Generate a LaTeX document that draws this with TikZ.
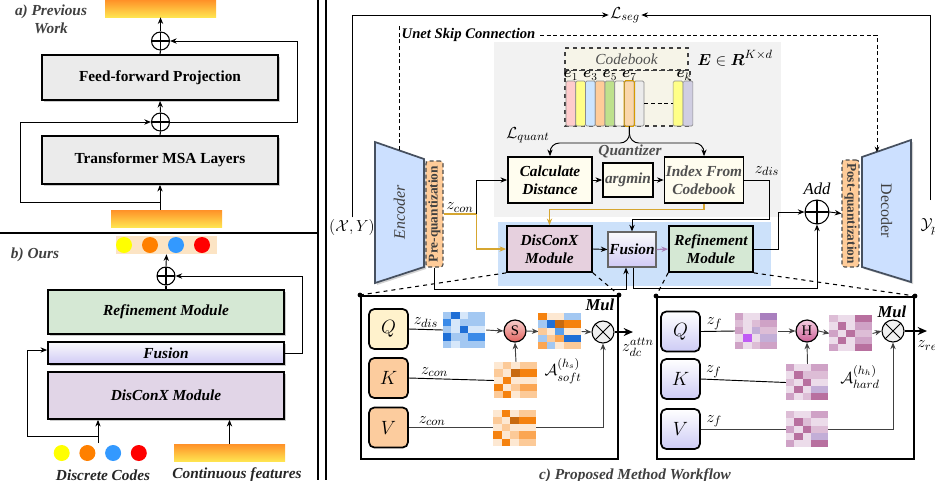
\documentclass[tikz,border=0pt]{standalone}
\usepackage{amsmath}
\usepackage{fontspec}
\setmainfont{Liberation Serif}
\usepackage{graphicx}
\usetikzlibrary{arrows.meta, positioning, calc, shadows}

\definecolor{txtgray}{RGB}{64,64,64}
\definecolor{qgray}{RGB}{80,80,80}
\definecolor{boxgray}{RGB}{235,235,235}
\definecolor{refgreen}{RGB}{213,232,212}
\definecolor{dcxpurple}{RGB}{225,213,231}
\definecolor{fustop}{RGB}{250,250,252}
\definecolor{fusbot}{RGB}{208,202,245}
\definecolor{stripbg}{RGB}{252,228,196}
\definecolor{baro}{RGB}{255,145,40}
\definecolor{bary}{RGB}{255,228,80}
\definecolor{cy}{RGB}{255,255,0}
\definecolor{co}{RGB}{255,128,0}
\definecolor{cb}{RGB}{51,153,255}
\definecolor{cr}{RGB}{255,0,0}
\definecolor{panelgray}{RGB}{242,242,242}
\definecolor{panelblue}{RGB}{204,225,250}
\definecolor{encblue}{RGB}{204,224,255}
\definecolor{encedge}{RGB}{70,80,95}
\definecolor{quantorange}{RGB}{255,204,153}
\definecolor{cream}{RGB}{255,253,239}
\definecolor{cbcream}{RGB}{246,244,232}
\definecolor{dcxpink}{RGB}{230,208,222}
\definecolor{gold}{RGB}{214,166,48}
\definecolor{fuspurple}{RGB}{166,128,184}
\definecolor{qyellow}{RGB}{255,242,204}
\definecolor{kvorange}{RGB}{252,204,158}
\definecolor{qkvbot}{RGB}{205,203,245}
\definecolor{stop}{RGB}{248,206,204}
\definecolor{sbot}{RGB}{226,100,96}
\definecolor{htop}{RGB}{246,206,226}
\definecolor{hbot}{RGB}{204,96,150}
% codebook bars
\definecolor{e1c}{RGB}{255,204,204}
\definecolor{e2c}{RGB}{255,255,136}
\definecolor{e3c}{RGB}{204,229,255}
\definecolor{e4c}{RGB}{255,204,153}
\definecolor{e5c}{RGB}{190,225,140}
\definecolor{e6c}{RGB}{248,246,238}
\definecolor{e7c}{RGB}{250,215,172}
\definecolor{e7edge}{RGB}{215,155,0}
\definecolor{e8c}{RGB}{235,235,235}
\definecolor{ekc}{RGB}{208,206,226}
% heatmap shades
\definecolor{bA}{HTML}{D6E7FA}
\definecolor{bB}{HTML}{A3C8F2}
\definecolor{bC}{HTML}{5CA0EC}
\definecolor{bD}{HTML}{1F6FD6}
\definecolor{bE}{HTML}{3A8AE8}
\definecolor{oA}{HTML}{FDE8D2}
\definecolor{oB}{HTML}{FCCA98}
\definecolor{oC}{HTML}{FBA653}
\definecolor{oD}{HTML}{F5820F}
\definecolor{oE}{HTML}{C86A10}
\definecolor{pA}{HTML}{ECDCEA}
\definecolor{pB}{HTML}{DDBDD6}
\definecolor{pC}{HTML}{CFA2C6}
\definecolor{pD}{HTML}{B8709F}
\definecolor{pE}{HTML}{C3AED7}
\definecolor{pF}{HTML}{A97FBE}
\definecolor{pG}{HTML}{C05CF5}

% 5x4 heat map (last column double width) over a named node
\newcommand{\hmap}[2]{%
  \begin{scope}[shift={(#1.north west)}]
    \foreach \c [count=\i from 0] in {#2}{
      \pgfmathtruncatemacro{\hrow}{div(\i,4)}
      \pgfmathtruncatemacro{\hcol}{mod(\i,4)}
      \pgfmathsetmacro{\hw}{\hcol==3 ? 2 : 1}
      \fill[\c] (\hcol*8.5, \hrow*7.2) rectangle ++(\hw*8.5, 7.2);
    }
  \end{scope}}

\begin{document}
\begin{tikzpicture}[
    x=0.75pt, y=-0.75pt,
    font=\fontsize{11}{13}\selectfont,
    wh/.style 2 args={minimum width=#1*0.75pt, minimum height=#2*0.75pt},
    shad/.style={drop shadow={shadow xshift=1.2pt, shadow yshift=-1.2pt, fill=black!40}},
    blockbox/.style={draw, line width=1.3pt, inner sep=1pt, align=center, shad, font=\fontsize{11.5}{13}\selectfont\bfseries},
    modbox/.style={draw, line width=1.3pt, inner sep=1pt, align=center, font=\fontsize{11.5}{13.5}\selectfont\bfseries\itshape},
    qbox/.style={draw, fill=cream, line width=1.3pt, inner sep=1pt, align=center, font=\fontsize{11.5}{13.5}\selectfont\bfseries\itshape},
    paneltitle/.style={text=txtgray, font=\fontsize{11.5}{13.5}\selectfont\bfseries\itshape, align=center},
    mlabel/.style={inner sep=1pt, font=\fontsize{13}{13}\selectfont},
    sumnode/.style={draw, circle, fill=white, inner sep=0pt, minimum size=18*0.75pt, line width=0.8pt,
        path picture={\draw[line width=0.8pt] (path picture bounding box.north) -- (path picture bounding box.south)
            (path picture bounding box.west) -- (path picture bounding box.east);}},
    mulnode/.style={draw, circle, fill=black!6, inner sep=0pt, minimum size=22*0.75pt, line width=0.8pt,
        path picture={\draw[line width=0.7pt] (path picture bounding box.north west) -- (path picture bounding box.south east)
            (path picture bounding box.north east) -- (path picture bounding box.south west);}},
    opnode/.style={draw, circle, inner sep=0pt, minimum size=22*0.75pt, line width=0.9pt, font=\fontsize{11}{11}\selectfont},
    gradbar/.style={top color=baro, bottom color=bary, draw=none, inner sep=0pt},
    codedot/.style={circle, inner sep=0pt, minimum size=16*0.75pt},
    codec/.style={fill=encblue, draw=encedge, line width=1.3pt, drop shadow={shadow xshift=1.5pt, shadow yshift=-1.5pt, fill=black!35}},
    codectext/.style={text=txtgray, inner sep=0pt, font=\fontsize{12}{12}\selectfont},
    quantbox/.style={draw=black!70, densely dashed, fill=quantorange, rounded corners=2pt, line width=0.8pt, inner sep=0pt, text=txtgray, font=\fontsize{10}{10}\selectfont\bfseries},
    cbbar/.style={draw=black!45, rounded corners=1pt, wh={9.75}{45}, inner sep=0pt, line width=0.5pt},
    elabel/.style={inner sep=0.3pt, font=\fontsize{11}{11}\selectfont},
    detailbox/.style={draw, line width=1.5pt, fill=white},
    qkv/.style={draw, line width=1.3pt, rounded corners=4pt, wh={39}{40}, font=\fontsize{14}{14}\selectfont},
    mat/.style={wh={42.5}{36}, inner sep=0pt},
    arr/.style={-{Stealth[length=5pt,width=4pt]}, line width=0.7pt},
    garr/.style={-{Stealth[length=5pt,width=4pt]}, line width=0.7pt, draw=black!75},
    goldarr/.style={-{Stealth[length=5pt,width=4pt]}, line width=0.9pt, draw=gold},
    purparr/.style={-{Stealth[length=5pt,width=4pt]}, line width=0.9pt, draw=fuspurple},
    skipline/.style={densely dashed, line width=0.7pt},
    zoomline/.style={dashed, line width=0.8pt}
]
\useasboundingbox (0,0) rectangle (935,480);

% Panel a: previous work
\node[gradbar, wh={111}{17}] (aout) at (160.5,8.5) {};
\node[sumnode] (asum1) at (160.5,41) {};
\node[blockbox, fill=boxgray, wh={236}{45}] (ffp) at (160,77.5) {Feed-forward Projection};
\node[sumnode] (asum2) at (160.5,122) {};
\node[blockbox, fill=boxgray, wh={236}{48}] (msa) at (160,160) {Transformer MSA Layers};
\node[gradbar, wh={111}{17}] (ain) at (166.5,218.5) {};
\node[paneltitle] (atitle) at (51,19) {a) Previous\\Work};
\coordinate (ajoin) at (160,202);
\coordinate (aleft) at (20,202);
\coordinate (aright) at (297,122);

\draw[arr] (ain.north -| msa.south) -- (msa.south);
\draw[arr] (ajoin) -- (aleft) |- (asum2.west);
\draw[line width=0.8pt] (msa.north) -- (asum2.south);
\draw[arr] (asum2.north) -- (ffp.south);
\draw[line width=0.8pt] (ffp.north) -- (asum1.south);
\draw[arr] (asum1.north) -- (aout.south);
\draw[arr] (asum2.east) -- (aright) |- (asum1.east);

% Panel b: ours
\node[fill=stripbg, wh={101}{18}, inner sep=0pt] (bout) at (166.5,245) {};
\foreach \c [count=\i] in {cy, co, cb, cr}
    \node[codedot, fill=\c] (bo\i) at (98+26*\i,245) {};
\node[sumnode] (bsum) at (166,276) {};
\node[modbox, shad, fill=refgreen, wh={236}{44}] (bref) at (166,312) {Refinement Module};
\node[modbox, shad, top color=fustop, bottom color=fusbot, wh={236}{22}] (bfus) at (166,353) {Fusion};
\node[modbox, shad, fill=dcxpurple, wh={236}{47}] (bdcx) at (166,395.5) {DisConX Module};
\foreach \c [count=\i] in {cy, co, cb, cr}
    \node[codedot, fill=\c] (bc\i) at (36+25.7*\i,453) {};
\node[gradbar, wh={111}{17}] (bin) at (229.5,452.5) {};
\node[paneltitle] (btitle) at (35,255) {b) Ours};
\node[paneltitle, text=black!85] (bcodes) at (103,475) {Discrete Codes};
\node[paneltitle, text=black!85] (bfeat) at (237,475) {Continuous features};
\coordinate (bcode) at (98,443);
\coordinate (bjoin) at (98,436);
\coordinate (bleft) at (27,436);
\coordinate (bright) at (302,353);

\draw[arr] (bcode) -- (bcode |- bdcx.south);
\draw[arr] (bjoin) -- (bleft) |- ($(bfus.west)+(0,-3)$);
\draw[arr] (bin.north) -- (bin.north |- bdcx.south);
\draw[line width=0.8pt] (bref.north) -- (bsum.south);
\draw[arr] (bsum.north) -- (bout.south);
\draw[arr] (bfus.east) -- (bright) |- (bsum.east);

% dividers
\draw[line width=1.2pt] (0,233) -- (318,233);
\draw[line width=1.2pt] (318,0) -- (318,480);
\draw[line width=1.2pt] (326,0) -- (326,480);

% Panel c: backgrounds
\fill[panelgray] (494,42) rectangle (781,217);
\fill[panelblue] (498,222) rectangle (771,286);

% segmentation loss
\node[mlabel] (xy) at (352,227) {$(\mathcal{X},Y)$};
\node[mlabel] (lseg) at (625,15) {$\mathcal{L}_{seg}$};
\node[mlabel, anchor=west] (ypred) at (919,227) {$\mathcal{Y}_{pred}$};
\coordinate (ypout) at (930,200);
\draw[arr] (xy.north) |- (lseg.west);
\draw[arr] (ypout) |- (lseg.east);

% encoder and decoder
\filldraw[codec] (375,142) -- (424,159) -- (424,267) -- (375,283) -- cycle;
\node[codectext] (enc) at (399.5,212) {\rotatebox{90}{\itshape Encoder}};
\filldraw[codec] (862,157) -- (911,140) -- (911,282) -- (862,267) -- cycle;
\node[codectext] (dec) at (886.5,211) {\rotatebox{-90}{Decoder}};
\node[quantbox, wh={17}{106}] (pre) at (434.5,214) {\rotatebox{90}{Pre-quantization}};
\node[quantbox, wh={17}{107}] (post) at (850.5,213.5) {\rotatebox{-90}{Post-quantization}};
\coordinate (enctop) at (399,150);
\coordinate (dectop) at (877,152);

% unet skip
\node[anchor=west, font=\fontsize{11}{13}\selectfont\bfseries\itshape] (unet) at (397,35) {Unet Skip Connection};
\draw[skipline] (enctop) -- (enctop |- unet.north);
\draw[skipline, -{Stealth[length=4pt,width=3.5pt]}] (unet.east) -| (dectop);

% codebook
\fill[cbcream] (565,70) rectangle (690,126);
\draw[dashed, line width=1pt, black!75] (565,70) rectangle (690,126);
\node[draw=black!75, dashed, line width=1pt, fill=cbcream, wh={123}{22}, inner sep=0pt, text=qgray, font=\fontsize{11.5}{12}\selectfont\itshape] (cbhead) at (626.5,59) {Codebook};
\foreach \c [count=\i] in {e1c,e2c,e3c,e4c,e5c,e6c,e7c,e8c}
    \node[cbbar, fill=\c] (bar\i) at (561.125+9.75*\i,103.5) {};
\draw[e7edge, line width=0.7pt, rounded corners=1pt] (bar7.north west) rectangle (bar7.south east);
\node[cbbar, fill=e2c] (barkm) at (678,103.5) {};
\node[cbbar, fill=ekc] (bark) at (688,103.5) {};
\draw[densely dashed, line width=0.6pt] (bar8.east) -- (barkm.west);
\foreach \i in {1,3,5,7}
    \node[elabel, above=0pt of bar\i] (lab\i) {$\boldsymbol{e}_{\i}$};
\node[elabel, above=0pt of bark, xshift=-3pt] (labk) {$\boldsymbol{e}_{k}$};
\node[font=\fontsize{13}{13}\selectfont] (ekd) at (735,58) {$\boldsymbol{E}\in \boldsymbol{R}^{K\times d}$};

% quantizer
\node[qbox, wh={84}{46}] (calc) at (550,180) {Calculate\\Distance};
\node[qbox, wh={50}{34}, text=qgray] (amin) at (628,180) {argmin};
\node[qbox, wh={76}{46}, text=qgray] (index) at (704,180) {Index From\\Codebook};
\node[text=qgray, font=\fontsize{11.5}{12}\selectfont\bfseries\itshape] (qz) at (630,151) {Quantizer};
\node[mlabel] (lq) at (528,135) {$\mathcal{L}_{quant}$};
\coordinate (qsplit) at (629.5,143);
\draw[arr, rounded corners=7pt] (bar7.south) -- (qsplit) -| (calc.north);
\draw[arr, rounded corners=7pt] (bar7.south) -- (qsplit) -| (index.north);
\draw[arr] (calc.east) -- (amin.west);
\draw[arr] (amin.east) -- (index.west);

% modules
\node[modbox, fill=dcxpink, wh={85}{46}] (dcx) at (549.5,249) {DisConX\\Module};
\node[modbox, draw=black!60, line width=0.8pt, top color=fustop, bottom color=fusbot, wh={48}{35}] (fus) at (632,249.5) {Fusion};
\node[modbox, fill=refgreen, wh={84}{46}] (ref) at (711,249) {Refinement\\Module};
\node[sumnode, minimum size=24*0.75pt] (add) at (817,212) {};
\node[above=0pt of add, font=\fontsize{12.5}{12}\selectfont\itshape] (addlab) {Add};
\node[mlabel] (zdis) at (767,171) {$z_{dis}$};
\coordinate (zsplit) at ($(pre.east)+(33,0)$);

\draw[draw=gold, line width=0.9pt] (pre.east) -- node[mlabel, above, text=black] {$z_{con}$} (zsplit);
\draw[goldarr] (zsplit) |- (dcx.west);
\draw[arr] (zsplit) |- (calc.west);
\draw[arr] (index.east) -| ($(index.east)+(25,39)$) -| (fus.north);
\draw[goldarr] (index.south) -- ++(0,6) -| (dcx.north);
\draw[arr] (dcx.east) -- (fus.west);
\draw[purparr] (fus.east) -- (ref.west);
\draw[arr] (ref.east) -- ++(25,0) |- (add.west);
\draw[arr] (add.east) -- (post.west);
\draw[arr] (pre.south) -- ++(0,22) -| ($(fus.south)+(-6,0)$);
\draw[arr] ($(fus.south)+(1,0)$) -- ++(0,21) -| (add.south);

% detail boxes
\node[detailbox, wh={257}{163}] (lbox) at (489.5,377.5) {};
\node[detailbox, wh={257}{162}] (rbox) at (785.5,378) {};
\draw[zoomline] (dcx.south west) -- (lbox.north west);
\draw[zoomline] (dcx.south east) -- (lbox.north east);
\draw[zoomline] (ref.south west) -- (rbox.north west);
\draw[zoomline] (ref.south east) -- (rbox.north east);
\foreach \b in {lbox, rbox}{
    \fill (\b.north west) circle (1.8pt);
    \fill (\b.north east) circle (1.8pt);
}

% soft attention (DisConX)
\node[qkv, fill=qyellow] (lqn) at (388.5,329) {$Q$};
\node[qkv, fill=kvorange] (lkn) at (388.5,378) {$K$};
\node[qkv, fill=kvorange] (lvn) at (388.5,427.5) {$V$};
\node[mat] (lqm) at (464.5,330) {};
\node[opnode, top color=stop, bottom color=sbot] (ls) at (515,331) {S};
\node[mat] (lres) at (560,331.5) {};
\node[mulnode] (lmul) at (603,332) {};
\node[font=\fontsize{12.5}{12}\selectfont\bfseries\itshape] (lmullab) at (600,305) {Mul};
\node[mat] (lkm) at (516,380.5) {};
\node[mat] (lvm) at (515,428) {};
\node[mlabel] (lasoft) at (563,371) {$\mathcal{A}_{soft}^{(h_s)}$};
\coordinate (lout) at (633,332);
\node[mlabel] (lzdc) at (638,347) {$z_{dc}^{attn}$};

\draw[line width=0.7pt] (lqn.east) -- node[mlabel, above] {$z_{dis}$} (lqm.west);
\draw[garr] (lqm.east) -- (ls.west);
\draw[garr] (ls.east) -- (lres.west);
\draw[garr] (lres.east) -- (lmul.west);
\draw[-{Stealth[length=7pt,width=6pt]}, line width=1.4pt] (lmul.east) -- (lout);
\draw[line width=0.7pt] (lkn.east) -- node[mlabel, above, pos=0.3] {$z_{con}$} (lkm.west);
\draw[garr] (lkm.north) -- (ls.south);
\draw[garr] (lvn.east) -- node[mlabel, above, pos=0.12] {$z_{con}$} (lvn.east -| lmul) -- (lmul.south);
\hmap{lqm}{bB,bD,bA,bB, bE,bA,bB,bB, bB,bA,bD,bA, bD,bB,bB,bE, bB,bA,bB,bB}
\hmap{lres}{oD,oA,oA,bB, bB,bD,oE,oD, oB,oA,bC,oA, bB,oB,oC,bD, oC,bB,oA,oB}
\hmap{lkm}{oA,oB,oA,oB, oB,oA,oE,oD, oA,oD,oA,oA, oD,oA,oB,oC, oB,oD,oA,oB}
\hmap{lvm}{oA,oD,oA,oB, oB,oA,oE,oD, oA,oB,oA,oA, oD,oA,oB,oC, oA,oD,oA,oB}

% hard attention (Refinement)
\node[qkv, top color=white, bottom color=qkvbot] (rqn) at (680.5,331.5) {$Q$};
\node[qkv, top color=white, bottom color=qkvbot] (rkn) at (680.5,379) {$K$};
\node[qkv, top color=white, bottom color=qkvbot] (rvn) at (680.5,429) {$V$};
\node[mat] (rqm) at (756.5,331) {};
\node[opnode, top color=htop, bottom color=hbot] (rh) at (807,331) {H};
\node[mat] (rres) at (851,333.5) {};
\node[mulnode] (rmul) at (893,331) {};
\node[font=\fontsize{12.5}{12}\selectfont\bfseries\itshape] (rmullab) at (892,312) {Mul};
\node[mat] (rkm) at (807.5,382.5) {};
\node[mat] (rvm) at (807.5,429.5) {};
\node[mlabel] (rahard) at (860,377) {$\mathcal{A}_{hard}^{(h_h)}$};
\coordinate (rout) at (927,331);
\node[mlabel, anchor=west] (rzref) at (916,347) {$z_{ref}$};

\draw[line width=0.7pt] (rqn.east) -- node[mlabel, above, pos=0.4] {$z_f$} (rqm.west);
\draw[garr] (rqm.east) -- (rh.west);
\draw[garr] (rh.east) -- (rres.west);
\draw[garr] (rres.east) -- (rmul.west);
\draw[-{Stealth[length=7pt,width=6pt]}, line width=1.4pt] (rmul.east) -- (rout);
\draw[line width=0.7pt] (rkn.east) -- node[mlabel, above, pos=0.15] {$z_f$} (rkm.west);
\draw[garr] (rkm.north) -- (rh.south);
\draw[garr] (rvn.east) -- node[mlabel, above, pos=0.07] {$z_f$} (rvn.east -| rmul) -- (rmul.south);
\hmap{rqm}{pC,pA,pA,pF, pB,pA,pB,pC, pC,pA,pE,pB, pA,pG,pA,pE, pC,pA,pB,pC}
\hmap{rres}{pB,pA,pA,pD, pA,pD,pA,pC, pC,pA,pD,pB, pA,pD,pA,pC, pC,pA,pA,pD}
\hmap{rkm}{pC,pA,pA,pC, pA,pD,pB,pB, pB,pA,pD,pA, pA,pD,pA,pE, pC,pA,pB,pD}
\hmap{rvm}{pB,pA,pA,pC, pA,pD,pB,pA, pC,pA,pD,pB, pA,pD,pA,pE, pC,pA,pA,pD}

\node[paneltitle] (ctitle) at (635,476) {c) Proposed Method Workflow};
\end{tikzpicture}
\end{document}
